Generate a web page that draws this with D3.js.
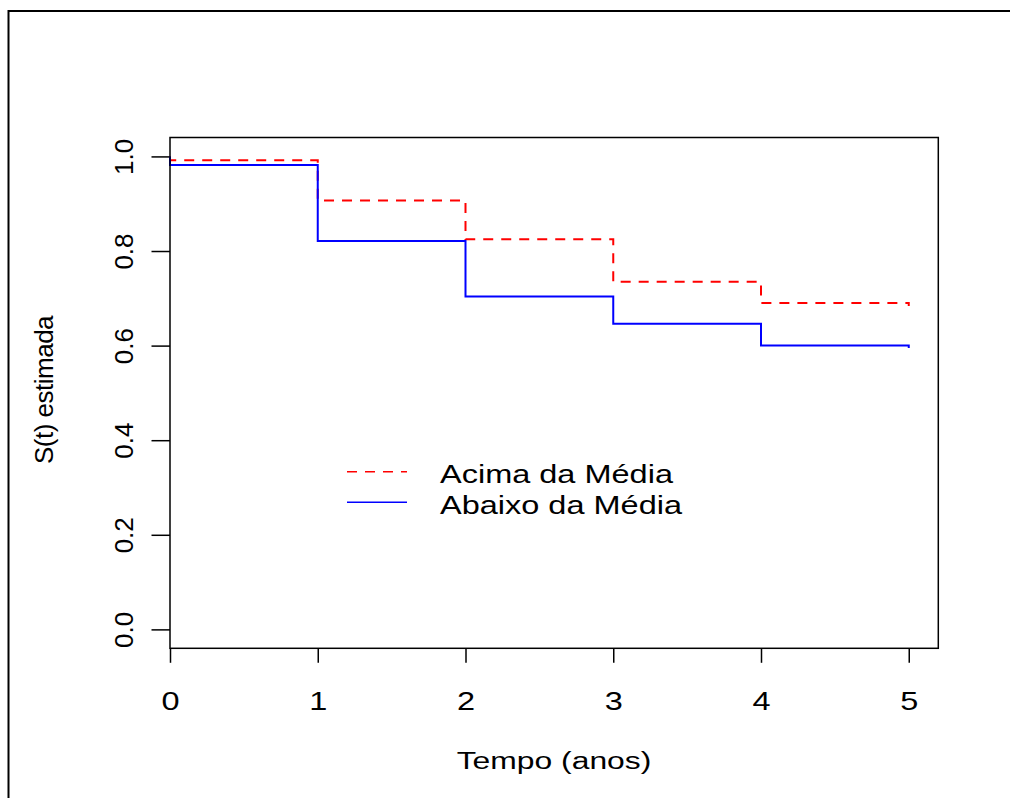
<!DOCTYPE html>
<html>
<head>
<meta charset="utf-8">
<script src="https://cdn.jsdelivr.net/npm/d3@7"></script>
<style>
  body { margin: 0; background: #fff; }
  text { font-family: "Liberation Sans", Arial, sans-serif; fill: #000; }
</style>
</head>
<body>
<script>
// tempos (anos) e S(t) estimada por grupo
var tempos = [0, 0, 1, 2, 3, 4, 5];
var acima  = [1, 0.992, 0.907, 0.825, 0.735, 0.690, 0.684];
var abaixo = [1, 0.982, 0.821, 0.704, 0.646, 0.600, 0.595];
var xTicks = [0, 1, 2, 3, 4, 5];
var yTicks = [0, 0.2, 0.4, 0.6, 0.8, 1.0];
var grupos = ["Acima da Média", "Abaixo da Média"];

var W = 1010, H = 798;
var svg = d3.select("body").append("svg").attr("width", W).attr("height", H);

// moldura externa (cortada à direita e embaixo)
svg.append("rect").attr("x", 8.5).attr("y", 11).attr("width", 1200).attr("height", 1000)
  .attr("fill", "none").attr("stroke", "#000").attr("stroke-width", 2);

var x = d3.scaleLinear().domain([0, 5.2]).range([170, 938.3]);
var y = d3.scaleLinear().domain([-0.04, 1.04]).range([648.3, 137.5]);

var sx = 1.3; // texto horizontal esticado

// eixo x
var gx = svg.append("g").attr("transform", "translate(0," + y(-0.04) + ")")
  .call(d3.axisBottom(x).tickValues(xTicks).tickSize(14.5).tickFormat(d3.format("d")));
gx.select(".domain").remove();
gx.selectAll(".tick line").attr("stroke", "#000").attr("stroke-width", 1.5);
gx.selectAll(".tick text").remove();
gx.selectAll(".tick").append("text")
  .attr("text-anchor", "middle")
  .attr("transform", "translate(0,61.5) scale(" + sx + ",1)")
  .style("font-size", "25px")
  .text(function(d) { return d; });

// eixo y
var gy = svg.append("g").attr("transform", "translate(" + x(0) + ",0)")
  .call(d3.axisLeft(y).tickValues(yTicks).tickSize(18.5));
gy.select(".domain").remove();
gy.selectAll(".tick line").attr("stroke", "#000").attr("stroke-width", 1.5);
gy.selectAll(".tick text").remove();
gy.selectAll(".tick").append("text")
  .attr("text-anchor", "middle")
  .attr("transform", "translate(-37.5,0) rotate(-90)")
  .style("font-size", "26px")
  .text(function(d) { return d3.format(".1f")(d); });

// curvas
var linha = function(vals) {
  return d3.line()
    .x(function(d, i) { return x(tempos[i]); })
    .y(function(d) { return y(d); })
    .curve(d3.curveStepAfter)(vals);
};

svg.append("path").attr("d", linha(acima))
  .attr("fill", "none").attr("stroke", "#ff0000").attr("stroke-width", 2)
  .attr("stroke-dasharray", "10,8");
svg.append("path").attr("d", linha(abaixo))
  .attr("fill", "none").attr("stroke", "#0000ff").attr("stroke-width", 2);

// caixa do gráfico
svg.append("rect").attr("x", x(0)).attr("y", y(1.04))
  .attr("width", x(5.2) - x(0)).attr("height", y(-0.04) - y(1.04))
  .attr("fill", "none").attr("stroke", "#000").attr("stroke-width", 1.5);

// títulos dos eixos
svg.append("text").attr("text-anchor", "middle")
  .attr("transform", "translate(554,768.5) scale(" + sx + ",1)")
  .style("font-size", "24.5px").text("Tempo (anos)");
svg.append("text").attr("text-anchor", "middle")
  .attr("transform", "translate(52.5,390) rotate(-90)")
  .style("font-size", "26px").style("letter-spacing", "-0.5px").text("S(t) estimada");

// legenda
var cores = ["#ff0000", "#0000ff"], tracos = ["10,8", null];
var leg = svg.append("g");
grupos.forEach(function(g, i) {
  var ly = 471.7 + i * 30.6;
  leg.append("line").attr("x1", 347).attr("x2", 407).attr("y1", ly).attr("y2", ly)
    .attr("stroke", cores[i]).attr("stroke-width", 1.5)
    .attr("stroke-dasharray", tracos[i]);
  leg.append("text")
    .attr("transform", "translate(440," + (ly + 11.5) + ") scale(" + sx + ",1)")
    .style("font-size", "25px").text(g);
});
</script>
</body>
</html>
